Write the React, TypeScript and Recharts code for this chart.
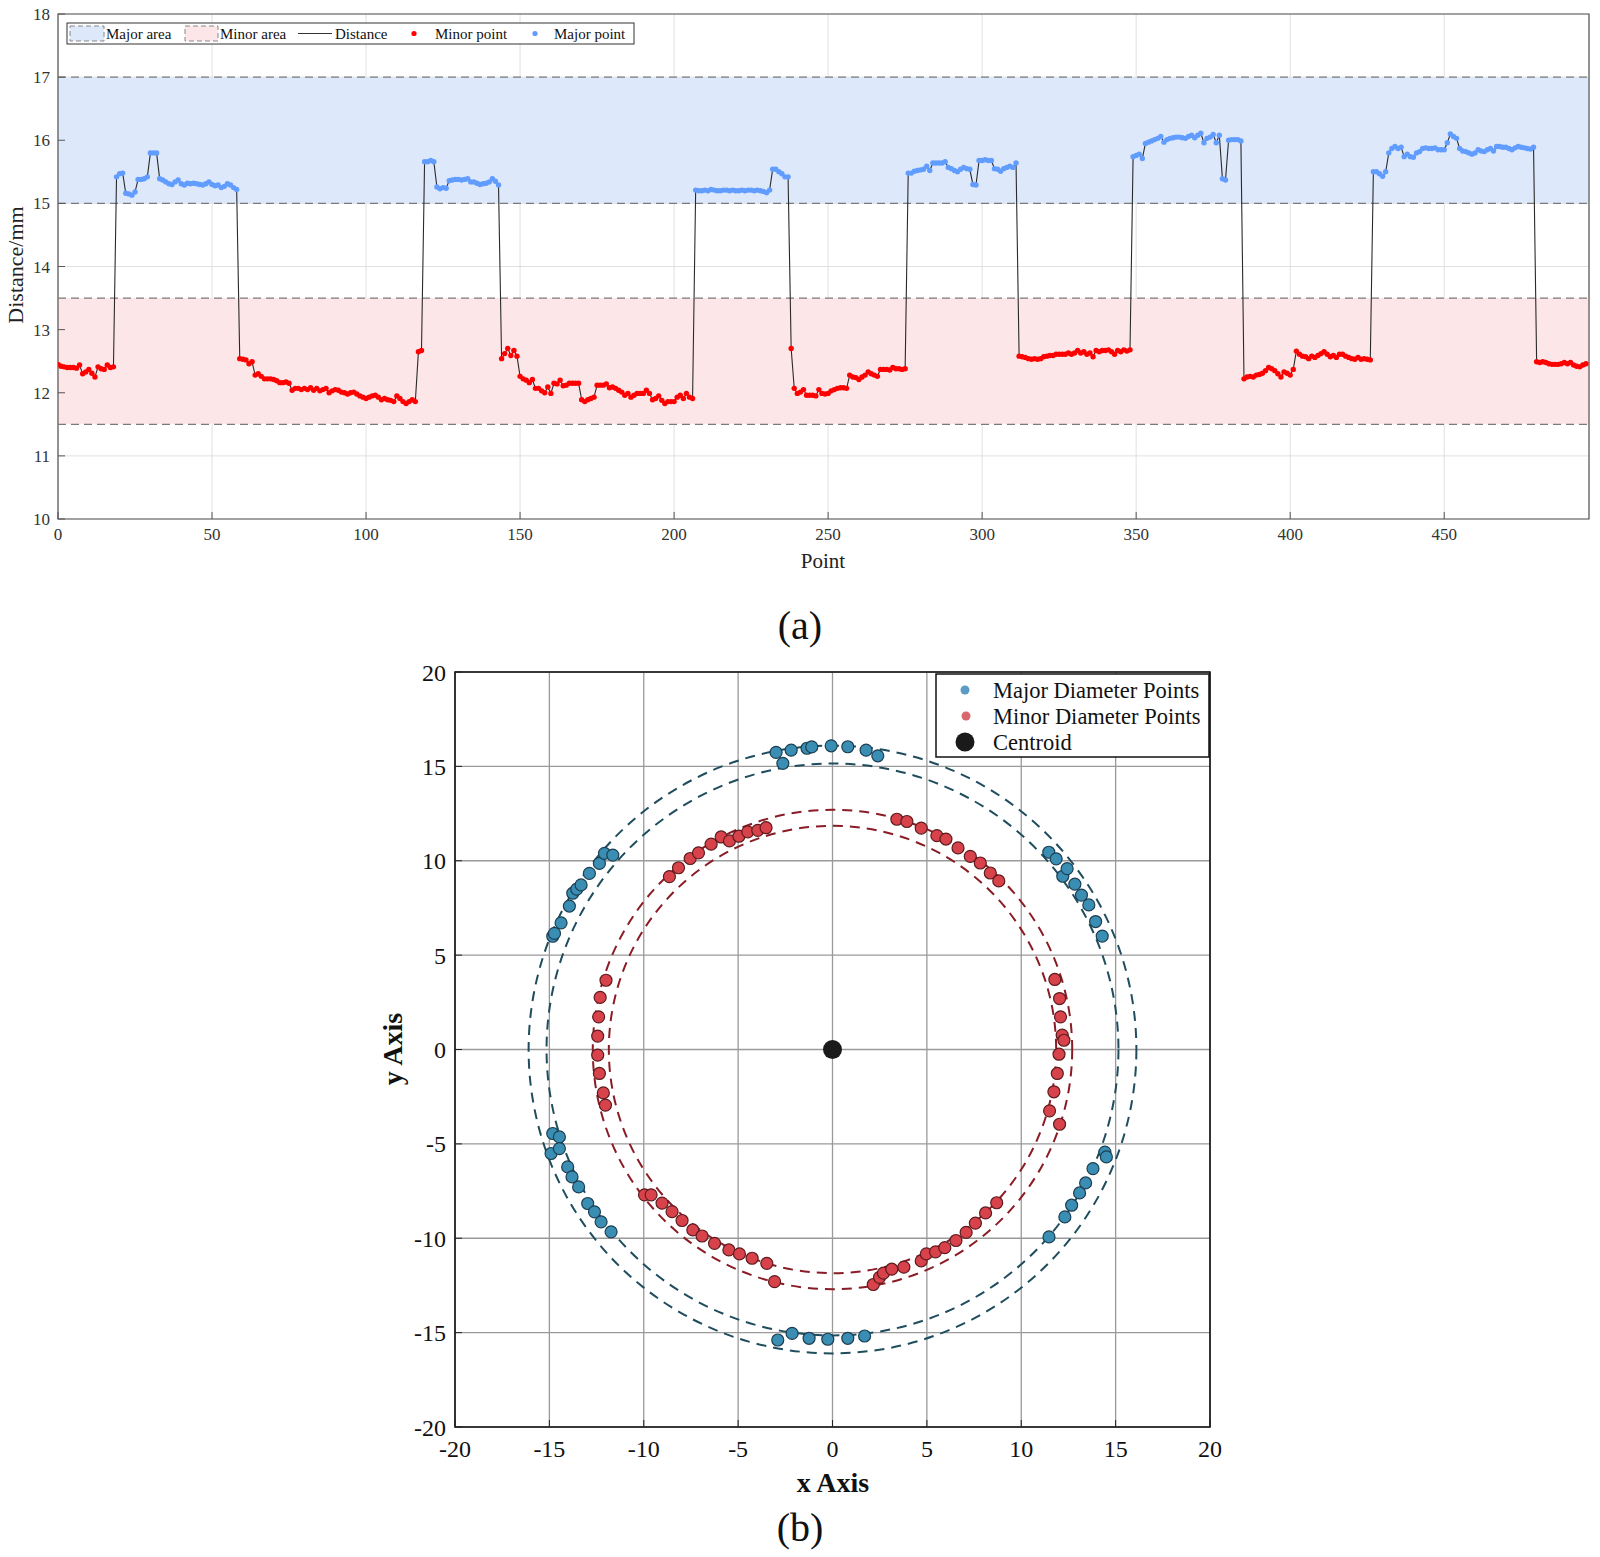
import React from 'react';
import {
  ComposedChart, ScatterChart, Line, Scatter, XAxis, YAxis, CartesianGrid,
  ReferenceArea, ReferenceLine,
} from 'recharts';

const FONT = "'Liberation Serif', 'Times New Roman', serif";

// ---------- (a) distance profile, read per run of points ----------
const segA = [12.45,12.42,12.41,12.40,12.40,12.40,12.39,12.44,12.30,12.33,12.37,12.31,12.25,12.41,12.38,12.37,12.44,12.40,12.41];
const segB = [15.42,15.47,15.48,15.16,15.15,15.13,15.18,15.38,15.38,15.39,15.42,15.80,15.80,15.80,15.39,15.37,15.34,15.31,15.30,15.34,15.37,15.31,15.29,15.32,15.31,15.32,15.31,15.30,15.29,15.31,15.34,15.30,15.28,15.29,15.25,15.27,15.31,15.29,15.25,15.22];
const segC = [12.54,12.53,12.52,12.46,12.49,12.28,12.30,12.26,12.22,12.22,12.22,12.21,12.19,12.16,12.16,12.17,12.15,12.04,12.07,12.07,12.05,12.07,12.05,12.08,12.04,12.07,12.03,12.05,12.07,12.00,12.03,12.05,12.04,12.01,12.00,11.98,12.00,12.01,11.98,11.95,11.93,11.91,11.93,11.95,11.96,11.93,11.89,11.91,11.89,11.88,11.86,11.95,11.91,11.86,11.83,11.86,11.89,11.86,12.65,12.67];
const segD = [15.66,15.66,15.68,15.66,15.26,15.23,15.25,15.24,15.36,15.37,15.38,15.38,15.37,15.38,15.39,15.34,15.34,15.32,15.30,15.31,15.32,15.34,15.39,15.35,15.29];
const segE = [12.54,12.62,12.70,12.59,12.67,12.58,12.26,12.22,12.20,12.16,12.21,12.07,12.07,12.03,12.00,12.09,11.99,12.15,12.14,12.20,12.11,12.12,12.15,12.15,12.15,12.15,11.89,11.86,11.89,11.91,11.93,12.12,12.12,12.12,12.14,12.08,12.09,12.07,12.04,12.01,11.96,11.99,11.93,11.96,11.99,11.99,11.99,12.04,11.99,11.89,11.91,11.95,11.88,11.83,11.86,11.86,11.86,11.93,11.96,11.91,11.99,11.93,11.91];
const segF = [15.21,15.20,15.20,15.21,15.20,15.22,15.21,15.20,15.20,15.21,15.21,15.20,15.21,15.20,15.20,15.21,15.20,15.21,15.21,15.20,15.21,15.20,15.19,15.17,15.21,15.54,15.54,15.50,15.47,15.42,15.42];
const segG = [12.70,12.07,11.99,12.01,12.05,11.96,11.96,11.96,11.95,12.05,11.99,11.98,11.99,12.03,12.05,12.07,12.08,12.08,12.07,12.28,12.25,12.24,12.21,12.25,12.28,12.33,12.30,12.28,12.26,12.37,12.37,12.37,12.36,12.40,12.38,12.38,12.37,12.38];
const segH = [15.48,15.48,15.51,15.52,15.53,15.54,15.59,15.52,15.64,15.64,15.64,15.64,15.66,15.57,15.55,15.52,15.50,15.54,15.57,15.55,15.54,15.30,15.29,15.68,15.68,15.69,15.68,15.68,15.55,15.54,15.51,15.55,15.57,15.59,15.57,15.64];
const segI = [12.58,12.57,12.56,12.54,12.53,12.54,12.53,12.54,12.57,12.58,12.59,12.59,12.61,12.61,12.61,12.61,12.63,12.61,12.63,12.67,12.63,12.65,12.61,12.63,12.57,12.67,12.65,12.67,12.67,12.68,12.65,12.61,12.67,12.65,12.68,12.66,12.68];
const segJ = [15.74,15.76,15.78,15.71,15.95,15.97,15.99,16.01,16.03,16.06,15.97,16.01,16.03,16.04,16.05,16.05,16.04,16.03,16.06,16.08,16.04,16.08,16.11,15.96,16.03,16.05,16.09,15.96,16.08,15.39,15.37,16.00,16.01,16.01,16.01,15.99];
const segK = [12.22,12.25,12.26,12.25,12.28,12.29,12.31,12.35,12.40,12.38,12.35,12.30,12.25,12.33,12.31,12.28,12.37,12.66,12.61,12.58,12.57,12.54,12.58,12.56,12.59,12.62,12.65,12.61,12.57,12.59,12.56,12.61,12.61,12.58,12.56,12.54,12.53,12.56,12.53,12.54,12.53,12.52];
const segL = [15.50,15.50,15.47,15.43,15.50,15.80,15.87,15.90,15.87,15.89,15.74,15.78,15.74,15.73,15.80,15.82,15.87,15.88,15.87,15.87,15.88,15.85,15.85,15.85,15.96,16.10,16.06,16.03,15.87,15.83,15.82,15.80,15.78,15.80,15.85,15.83,15.82,15.85,15.87,15.83,15.90,15.90,15.89,15.89,15.87,15.85,15.88,15.90,15.89,15.88,15.87,15.86,15.89];
const segM = [12.49,12.48,12.49,12.48,12.46,12.45,12.45,12.45,12.46,12.48,12.46,12.48,12.44,12.42,12.41,12.44,12.46];

const distance = [...segA, ...segB, ...segC, ...segD, ...segE, ...segF, ...segG, ...segH, ...segI, ...segJ, ...segK, ...segL, ...segM];
const xTicksA = [0, 50, 100, 150, 200, 250, 300, 350, 400, 450];
const yTicksA = [10, 11, 12, 13, 14, 15, 16, 17, 18];
const X_MAX_A = 497;
const majorBand = [15, 17];
const minorBand = [11.5, 13.5];
const SPLIT = 14;

const lineData = distance.map((v, i) => ({ i, v }));
const minorPts = lineData.filter((d) => d.v < SPLIT);
const majorPts = lineData.filter((d) => d.v >= SPLIT);

// ---------- (b) cross-section points ----------
const majorTop = [[-2.99,15.74],[-2.63,15.16],[-2.19,15.86],[-1.35,15.96],[-1.1,16.03],[-0.07,16.09],[0.81,16.04],[1.78,15.86],[2.40,15.56]];
const majorUpperLeft = [[-14.82,6.0],[-14.73,6.15],[-14.38,6.71],[-13.94,7.6],[-13.76,8.28],[-13.55,8.5],[-13.32,8.72],[-12.88,9.33],[-12.35,9.86],[-12.08,10.39],[-11.64,10.30]];
const majorLowerLeft = [[-14.82,-4.45],[-14.47,-4.63],[-14.91,-5.51],[-14.47,-5.25],[-14.03,-6.22],[-13.80,-6.75],[-13.45,-7.28],[-12.97,-8.16],[-12.61,-8.60],[-12.26,-9.13],[-11.73,-9.66]];
const majorBottom = [[-2.90,-15.39],[-2.14,-15.04],[-1.24,-15.30],[-0.25,-15.35],[0.81,-15.30],[1.70,-15.18]];
const majorUpperRight = [[11.46,10.45],[11.85,10.10],[12.20,9.18],[12.43,9.58],[12.84,8.76],[13.19,8.18],[13.58,7.66],[13.94,6.78],[14.29,6.01]];
const majorLowerRight = [[14.43,-5.44],[14.51,-5.69],[13.80,-6.31],[13.41,-7.07],[13.09,-7.60],[12.67,-8.25],[12.31,-8.87],[11.47,-9.93]];

const minorUpperLeft = [[-8.64,9.16],[-8.16,9.63],[-7.54,10.12],[-7.10,10.42],[-6.43,10.88],[-5.90,11.26],[-5.46,11.05],[-4.96,11.30],[-4.49,11.53],[-3.96,11.61],[-3.52,11.75]];
const minorUpperRight = [[3.41,12.20],[3.94,12.08],[4.70,11.73],[5.53,11.33],[6.01,11.15],[6.65,10.68],[7.30,10.23],[7.83,9.88],[8.36,9.35],[8.81,8.93]];
const minorLeft = [[-12.0,3.67],[-12.31,2.76],[-12.39,1.73],[-12.44,0.71],[-12.44,-0.30],[-12.35,-1.27],[-12.14,-2.30],[-12.03,-2.95]];
const minorLowerLeft = [[-9.96,-7.70],[-9.61,-7.70],[-9.03,-8.14],[-8.50,-8.59],[-7.97,-9.06],[-7.40,-9.56],[-6.91,-9.88],[-6.25,-10.27],[-5.49,-10.62],[-4.93,-10.83],[-4.26,-11.06],[-3.48,-11.33],[-3.07,-12.30]];
const minorLowerRight = [[2.16,-12.45],[2.49,-12.07],[2.70,-11.85],[3.14,-11.64],[3.78,-11.53],[4.70,-11.20],[4.97,-10.83],[5.46,-10.72],[5.95,-10.50],[6.54,-10.12],[7.08,-9.69],[7.57,-9.20],[8.11,-8.66],[8.70,-8.12]];
const minorRight = [[11.78,3.71],[12.03,2.70],[12.08,1.73],[12.17,0.76],[12.26,0.49],[12.0,-0.25],[11.91,-1.27],[11.73,-2.24],[11.50,-3.25],[12.03,-3.96]];

const centroid = [[0, 0]];
const majorRadii = [15.15, 16.1];
const minorRadii = [11.85, 12.7];
const ticksB = [-20, -15, -10, -5, 0, 5, 10, 15, 20];

const toXY = (arr: number[][]) => arr.map(([x, y]) => ({ x, y }));
const majorXY = toXY([...majorTop, ...majorUpperLeft, ...majorLowerLeft, ...majorBottom, ...majorUpperRight, ...majorLowerRight]);
const minorXY = toXY([...minorUpperLeft, ...minorUpperRight, ...minorLeft, ...minorLowerLeft, ...minorLowerRight, ...minorRight]);
const centroidXY = toXY(centroid);

const C_MAJ_AREA = '#dde8fb';
const C_MIN_AREA = '#fde6e8';
const C_MAJ_PT = '#619cff';
const C_MIN_PT = '#ff0000';

const ringShape = (color: string) => (p: any) => (
  <ellipse
    cx={p.x + p.width / 2}
    cy={p.y + p.height / 2}
    rx={Math.abs(p.width) / 2}
    ry={Math.abs(p.height) / 2}
    fill="none"
    stroke={color}
    strokeWidth={2}
    strokeDasharray="10 7"
  />
);

const tickA = { fontSize: 17, fill: '#333', fontFamily: FONT };
const tickB = { fontSize: 24, fill: '#111', fontFamily: FONT };

export default function App() {
  return (
    <div style={{ fontFamily: FONT }}>
      {/* -------- chart (a) -------- */}
      <div style={{ position: 'absolute', left: 0, top: 0 }}>
        <ComposedChart width={1600} height={580} data={lineData} margin={{ top: 14, right: 11, bottom: 31, left: 8 }}>
          <ReferenceArea x1={0} x2={X_MAX_A} y1={majorBand[0]} y2={majorBand[1]} fill={C_MAJ_AREA} fillOpacity={1} stroke="none" />
          <ReferenceArea x1={0} x2={X_MAX_A} y1={minorBand[0]} y2={minorBand[1]} fill={C_MIN_AREA} fillOpacity={1} stroke="none" />
          <CartesianGrid stroke="#d8d8d8" strokeOpacity={0.8} />
          <XAxis type="number" dataKey="i" domain={[0, X_MAX_A]} ticks={xTicksA} allowDataOverflow
            height={30} tickSize={-7} tickMargin={16} axisLine={false} tickLine={{ stroke: '#555' }} tick={tickA} />
          <YAxis type="number" domain={[10, 18]} ticks={yTicksA} allowDataOverflow
            width={50} tickSize={-7} tickMargin={15} axisLine={false} tickLine={{ stroke: '#555' }} tick={tickA} />
          {[majorBand[1], majorBand[0], minorBand[1], minorBand[0]].map((y) => (
            <ReferenceLine key={y} y={y} stroke="#7a7a7a" strokeWidth={1.3} strokeDasharray="8 5" />
          ))}
          <Line dataKey="v" stroke="#2a2a2a" strokeWidth={1.1} dot={false} isAnimationActive={false} />
          <Scatter data={minorPts} dataKey="v" isAnimationActive={false}
            shape={(p: any) => <circle cx={p.cx} cy={p.cy} r={2.7} fill={C_MIN_PT} />} />
          <Scatter data={majorPts} dataKey="v" isAnimationActive={false}
            shape={(p: any) => <circle cx={p.cx} cy={p.cy} r={2.7} fill={C_MAJ_PT} />} />
          <ReferenceArea x1={0} x2={X_MAX_A} y1={10} y2={18} fill="none" stroke="#555" strokeWidth={1.2} />
        </ComposedChart>
      </div>

      {/* legend (a) */}
      <svg style={{ position: 'absolute', left: 0, top: 0 }} width={700} height={60}>
        <rect x={67} y={23} width={567} height={21} fill="#fff" stroke="#333" strokeWidth={1} />
        <rect x={70} y={26} width={34} height={15} fill={C_MAJ_AREA} stroke="#888" strokeDasharray="5 3" />
        <text x={106} y={39} fontSize={15} fontFamily={FONT} fill="#111">Major area</text>
        <rect x={185} y={26} width={33} height={15} fill={C_MIN_AREA} stroke="#888" strokeDasharray="5 3" />
        <text x={220} y={39} fontSize={15} fontFamily={FONT} fill="#111">Minor area</text>
        <line x1={298} x2={332} y1={33.5} y2={33.5} stroke="#333" strokeWidth={1} />
        <text x={335} y={39} fontSize={15} fontFamily={FONT} fill="#111">Distance</text>
        <circle cx={414} cy={33.5} r={2.6} fill={C_MIN_PT} />
        <text x={435} y={39} fontSize={15} fontFamily={FONT} fill="#111">Minor point</text>
        <circle cx={535} cy={33.5} r={2.6} fill={C_MAJ_PT} />
        <text x={554} y={39} fontSize={15} fontFamily={FONT} fill="#111">Major point</text>
      </svg>

      <div style={{ position: 'absolute', left: 16, top: 265, transform: 'translate(-50%, -50%) rotate(-90deg)', fontSize: 22, color: '#222', whiteSpace: 'nowrap' }}>Distance/mm</div>
      <div style={{ position: 'absolute', left: 823, top: 561, transform: 'translate(-50%, -50%)', fontSize: 21, color: '#222' }}>Point</div>
      <div style={{ position: 'absolute', left: 800, top: 625, transform: 'translate(-50%, -50%)', fontSize: 40, color: '#111' }}>(a)</div>

      {/* -------- chart (b) -------- */}
      <div style={{ position: 'absolute', left: 0, top: 600 }}>
        <ScatterChart width={1300} height={900} margin={{ top: 72, right: 90, bottom: 33, left: 395 }}>
          <CartesianGrid stroke="#9a9a9a" strokeWidth={1.3} />
          <XAxis type="number" dataKey="x" domain={[-20, 20]} ticks={ticksB} allowDataOverflow
            height={40} tickSize={-7} tickMargin={20} axisLine={false} tickLine={{ stroke: '#222' }} tick={tickB} />
          <YAxis type="number" dataKey="y" domain={[-20, 20]} ticks={ticksB} allowDataOverflow
            width={60} tickSize={-7} tickMargin={16} axisLine={false} tickLine={{ stroke: '#222' }} tick={tickB} />
          <ReferenceArea x1={-majorRadii[1]} x2={majorRadii[1]} y1={-majorRadii[1]} y2={majorRadii[1]} shape={ringShape('#1f4d5e')} />
          <ReferenceArea x1={-majorRadii[0]} x2={majorRadii[0]} y1={-majorRadii[0]} y2={majorRadii[0]} shape={ringShape('#1f4d5e')} />
          <ReferenceArea x1={-minorRadii[1]} x2={minorRadii[1]} y1={-minorRadii[1]} y2={minorRadii[1]} shape={ringShape('#8a1c26')} />
          <ReferenceArea x1={-minorRadii[0]} x2={minorRadii[0]} y1={-minorRadii[0]} y2={minorRadii[0]} shape={ringShape('#8a1c26')} />
          <Scatter data={majorXY} isAnimationActive={false}
            shape={(p: any) => <circle cx={p.cx} cy={p.cy} r={6} fill="#3a8db3" stroke="#1c3f52" strokeWidth={1.2} />} />
          <Scatter data={minorXY} isAnimationActive={false}
            shape={(p: any) => <circle cx={p.cx} cy={p.cy} r={6} fill="#d8434b" stroke="#5e1b1e" strokeWidth={1.2} />} />
          <Scatter data={centroidXY} isAnimationActive={false}
            shape={(p: any) => <circle cx={p.cx} cy={p.cy} r={9.5} fill="#1a1a1a" />} />
          <ReferenceArea x1={-20} x2={20} y1={-20} y2={20} fill="none" stroke="#111" strokeWidth={1.6} />
        </ScatterChart>
      </div>

      {/* legend (b) */}
      <svg style={{ position: 'absolute', left: 900, top: 660 }} width={330} height={110}>
        <g transform="translate(-900,-660)">
          <rect x={936} y={674} width={273} height={83} fill="#fff" stroke="#111" strokeWidth={1.5} />
          <circle cx={965} cy={690} r={4.5} fill="#5b9bc4" />
          <text x={993} y={698} fontSize={22.5} fontFamily={FONT} fill="#111">Major Diameter Points</text>
          <circle cx={966} cy={716} r={4.5} fill="#d9676e" />
          <text x={993} y={724} fontSize={22.5} fontFamily={FONT} fill="#111">Minor Diameter Points</text>
          <circle cx={965} cy={742} r={9.5} fill="#1a1a1a" />
          <text x={993} y={750} fontSize={22.5} fontFamily={FONT} fill="#111">Centroid</text>
        </g>
      </svg>

      <div style={{ position: 'absolute', left: 393, top: 1049, transform: 'translate(-50%, -50%) rotate(-90deg)', fontSize: 28, fontWeight: 'bold', color: '#111', whiteSpace: 'nowrap' }}>y Axis</div>
      <div style={{ position: 'absolute', left: 833, top: 1483, transform: 'translate(-50%, -50%)', fontSize: 28, fontWeight: 'bold', color: '#111', whiteSpace: 'nowrap' }}>x Axis</div>
      <div style={{ position: 'absolute', left: 800, top: 1527, transform: 'translate(-50%, -50%)', fontSize: 40, color: '#111' }}>(b)</div>
    </div>
  );
}
